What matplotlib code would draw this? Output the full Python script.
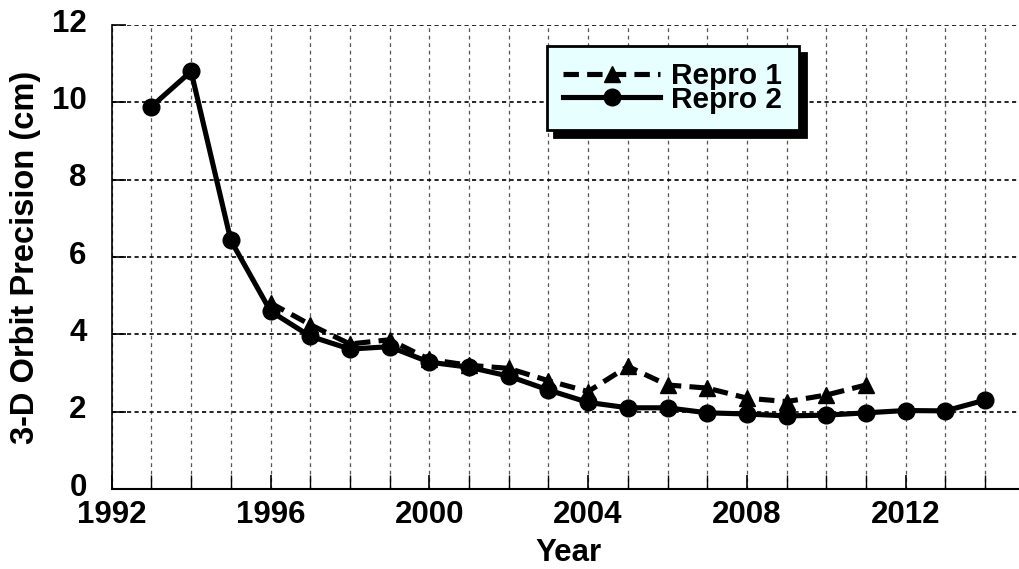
import matplotlib
matplotlib.use("Agg")
import matplotlib.pyplot as plt
import matplotlib.transforms as mtransforms

years_r1 = [1996, 1997, 1998, 1999, 2000, 2001, 2002, 2003, 2004, 2005, 2006, 2007, 2008, 2009, 2010, 2011]
repro1 = [4.81, 4.25, 3.75, 3.86, 3.35, 3.20, 3.12, 2.80, 2.52, 3.17, 2.69, 2.61, 2.35, 2.26, 2.43, 2.69]
years_r2 = [1993, 1994, 1995, 1996, 1997, 1998, 1999, 2000, 2001, 2002, 2003, 2004, 2005, 2006, 2007, 2008, 2009, 2010, 2011, 2012, 2013, 2014]
repro2 = [9.89, 10.80, 6.43, 4.60, 3.95, 3.62, 3.68, 3.28, 3.15, 2.92, 2.56, 2.24, 2.10, 2.10, 1.97, 1.94, 1.89, 1.91, 1.97, 2.03, 2.02, 2.30]
xticks = [1992, 1996, 2000, 2004, 2008, 2012]
yticks = [0, 2, 4, 6, 8, 10, 12]

plt.rcParams['font.family'] = ['Liberation Sans', 'DejaVu Sans']
plt.rcParams['font.weight'] = 'bold'

W, H = 1019, 569
fig = plt.figure(figsize=(W / 100, H / 100), dpi=100)
left, bottom, top = 111.7 / W, (H - 489) / H, (H - 25) / H
axw = 23 * 39.7
ax = fig.add_axes([left, bottom, axw / W, top - bottom])

ax.plot(years_r1, repro1, color='black', lw=3.7, dashes=(3, 1.6), marker='^',
        markersize=12, label='Repro 1', zorder=3)
ax.plot(years_r2, repro2, color='black', lw=3.7, marker='o', markersize=12,
        label='Repro 2', zorder=4)

ax.set_xlim(1992, 2015)
ax.set_ylim(0, 12)
ax.set_xticks(xticks)
ax.set_xticks(range(1992, 2016), minor=True)
ax.set_yticks(yticks)
ax.grid(True, which='both', axis='x', color='#555555', lw=0.9, ls=(0, (3, 3)))
ax.grid(True, which='major', axis='y', color='black', lw=1.2, ls=(0, (2.5, 2)))
ax.tick_params(axis='both', which='major', direction='in', length=10, width=1.2, labelsize=22.5)
ax.tick_params(axis='y', pad=18)
ax.tick_params(axis='x', pad=8)
ax.tick_params(axis='x', which='minor', direction='in', length=10, width=1.0)
shift = mtransforms.ScaledTranslation(0, 5 / 100, fig.dpi_scale_trans)
for lab in ax.get_yticklabels():
    lab.set_transform(lab.get_transform() + shift)
for lab in ax.get_xticklabels() + ax.get_yticklabels():
    lab.set_fontweight('bold')
ax.spines['top'].set_visible(False)
ax.spines['right'].set_visible(False)
ax.spines['left'].set_linewidth(1.2)
ax.spines['bottom'].set_linewidth(1.5)

ax.set_xlabel('Year', fontsize=22.5, fontweight='bold', labelpad=6)
ax.set_ylabel('3-D Orbit Precision (cm)', fontsize=23.5, fontweight='bold', labelpad=8)

leg = ax.legend(loc='upper left', bbox_to_anchor=((546.7 - 111.7) / axw, (489 - 45.7) / 464),
                fontsize=21.5, handlelength=3.25, frameon=True, fancybox=False,
                borderpad=0.56, labelspacing=-0.16, handletextpad=0.35, borderaxespad=0,
                shadow={'ox': 5, 'oy': -5, 'color': 'black', 'alpha': 1})
frame = leg.get_frame()
frame.set_facecolor('#e8ffff')
frame.set_edgecolor('black')
frame.set_linewidth(2)
frame.set_alpha(1)
leg.set_zorder(10)
for t in leg.get_texts():
    t.set_fontweight('bold')

fig.savefig('out.png', dpi=100)
